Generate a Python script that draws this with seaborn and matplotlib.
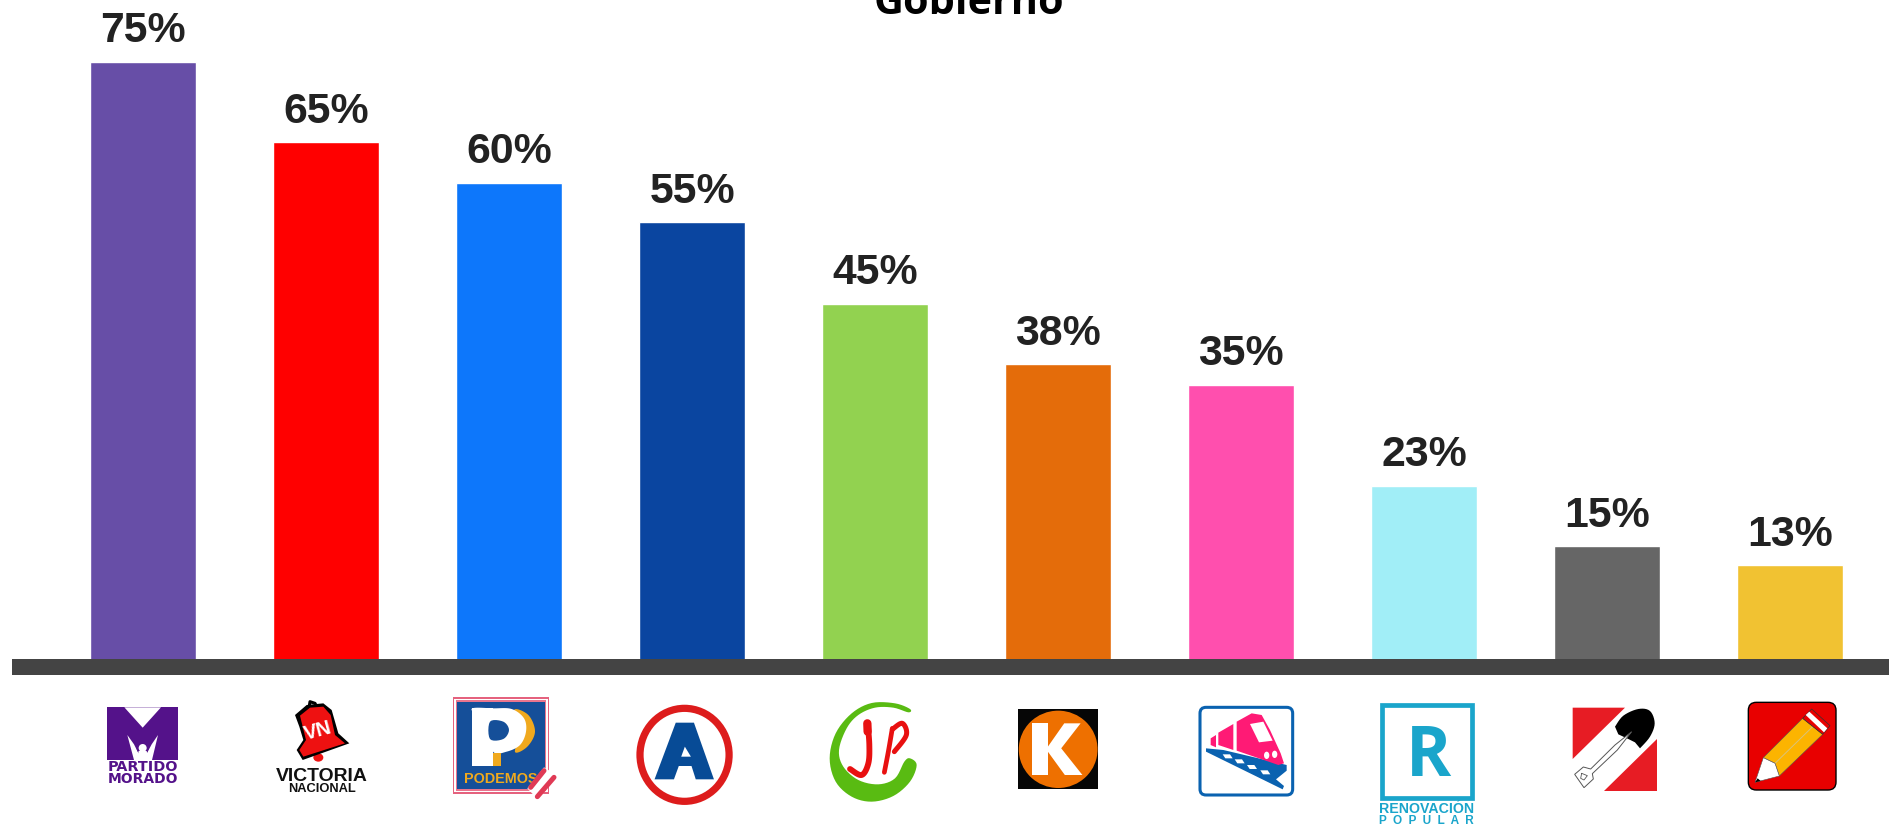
import numpy as np
import pandas as pd
import matplotlib
matplotlib.use("Agg")
import matplotlib.pyplot as plt
from matplotlib.patches import Polygon, Rectangle, Ellipse, FancyBboxPatch
import seaborn as sns

parties = ["Partido Morado", "Victoria Nacional", "Podemos", "APRA", "Juntos por el Perú",
           "Fuerza Popular", "Perú Patriótico", "Renovación Popular", "Perú Libre", "Acción Popular"]
values = [75.0, 65.1, 60.15, 55.25, 45.25, 37.8, 35.3, 22.9, 15.45, 13.1]
value_labels = ["75%", "65%", "60%", "55%", "45%", "38%", "35%", "23%", "15%", "13%"]
colors = ["#674ea7", "#ff0000", "#0d77fb", "#0a45a0", "#92d250",
          "#e46c0a", "#ff4fae", "#a1eef7", "#666666", "#f1c232"]
title_text = "Gobierno"

W, H = 1890, 826
sns.set_theme(style="white")
plt.rcParams["font.family"] = ["Liberation Sans", "DejaVu Sans"]
fig = plt.figure(figsize=(W / 100, H / 100), dpi=100, facecolor="white")

left, right, base_px = 12, 1890, 667
zero_px, px_per_unit = 671.8, 8.133
x0_px, step_px = 143.3, 183.0
ax = fig.add_axes([left / W, 1 - base_px / H, (right - left) / W, base_px / H])
df = pd.DataFrame({"party": parties, "value": values})
sns.barplot(data=df, x="party", y="value", hue="party", palette=colors, saturation=1,
            width=0.578, legend=False, dodge=False, ax=ax)
ax.set_xlim((left - x0_px) / step_px, (right - x0_px) / step_px)
ax.set_ylim((zero_px - base_px) / px_per_unit, zero_px / px_per_unit)
ax.set_xlabel(""); ax.set_ylabel("")
ax.set_yticks([]); ax.set_xticks(range(len(parties))); ax.set_xticklabels([])
ax.tick_params(length=0)
for s in ["top", "left", "right"]:
    ax.spines[s].set_visible(False)
ax.spines["bottom"].set_linewidth(16 * 0.72)
ax.spines["bottom"].set_color("#444444")
ax.spines["bottom"].set_capstyle("butt")

for i, (v, lab) in enumerate(zip(values, value_labels)):
    ax.annotate(lab, (i, v), xytext=(0, 14), textcoords="offset points", ha="center",
                va="baseline", fontsize=30.8, fontweight="bold", color="#222222",
                family="Liberation Sans", annotation_clip=False)

# overlay for party logos, in pixel coordinates
lg = fig.add_axes([0, 0, 1, 1], facecolor="none")
lg.set_xlim(0, W); lg.set_ylim(H, 0); lg.axis("off")
fig.text(969 / W, 1 - 14 / H, title_text, ha="center", va="baseline", fontsize=29.8,
         fontweight="bold", color="black", family="Open Sans")
renderer = fig.canvas.get_renderer()

L = lambda x, y: (x / 1.65, 640 + y / 3)
R = lambda x, y: (940 + x / 1.65, 640 + y / 3)
def Z(ox, oy):
    return lambda x, y: (ox + x / 3, oy + y / 3)

def poly(conv, pts, fc, ec="none", lw=0, z=3):
    lg.add_patch(Polygon([conv(*p) for p in pts], closed=True, fc=fc, ec=ec, lw=lw, zorder=z))

def box(conv, x0, y0, x1, y1, fc, ec="none", lw=0, z=3):
    (a, b), (c, d) = conv(x0, y0), conv(x1, y1)
    lg.add_patch(Rectangle((a, b), c - a, d - b, fc=fc, ec=ec, lw=lw, zorder=z))

def ell(conv, x0, y0, x1, y1, fc, ec="none", lw=0, z=3):
    (a, b), (c, d) = conv(x0, y0), conv(x1, y1)
    lg.add_patch(Ellipse(((a + c) / 2, (b + d) / 2), c - a, d - b, fc=fc, ec=ec, lw=lw, zorder=z))

def smooth(pts, closed=False, n=12):
    p = np.array(pts, float)
    if closed:
        q = np.vstack([p[-1], p, p[0], p[1]])
    else:
        q = np.vstack([p[0], p, p[-1]])
    out = []
    for i in range(1, len(q) - 2):
        for t in np.linspace(0, 1, n, endpoint=False):
            out.append(0.5 * (2 * q[i] + (q[i + 1] - q[i - 1]) * t
                              + (2 * q[i - 1] - 5 * q[i] + 4 * q[i + 1] - q[i + 2]) * t ** 2
                              + (3 * q[i] - q[i - 1] - 3 * q[i + 1] + q[i + 2]) * t ** 3))
    if not closed:
        out.append(p[-1])
    return [tuple(o) for o in out]

def stroke(conv, pts, color, lw, z=4, curve=False):
    if curve:
        pts = smooth(pts)
    xy = np.array([conv(*p) for p in pts])
    lg.plot(xy[:, 0], xy[:, 1], color=color, lw=lw, solid_capstyle="round",
            solid_joinstyle="round", zorder=z)

def fit(conv, x0, x1, y, s, color, family="Liberation Sans", weight="bold", z=5):
    a, b = conv(x0, y); c, _ = conv(x1, y)
    t = lg.text(a, b, s, ha="left", va="baseline", fontsize=10, color=color,
                family=family, fontweight=weight, zorder=z)
    w = t.get_window_extent(renderer).width
    t.set_fontsize(10 * (c - a) / w)
    return t

# Partido Morado and Victoria Nacional
A = Z(90, 695)
pm = "#54128a"
box(A, 52, 37, 264, 195, pm)
poly(A, [(103, 37), (213, 37), (158, 98)], "white", z=4)
poly(A, [(112, 120), (132, 148), (146, 176), (170, 176), (185, 148), (204, 120), (186, 195), (132, 195)], "white", z=4)
ell(A, 140, 141, 176, 177, pm, z=4.1)
ell(A, 146, 147, 170, 171, "white", z=4.2)
poly(A, [(146, 168), (170, 168), (176, 195), (140, 195)], "white", z=4.2)
fit(A, 52, 264, 229, "PARTIDO", pm, family="DejaVu Sans")
fit(A, 52, 264, 264, "MORADO", pm, family="DejaVu Sans")

stroke(A, [(658, 32), (660, 20), (675, 25), (680, 35)], "black", 2.2, z=3)
poly(A, [(615, 60), (650, 30), (700, 25), (725, 45), (745, 115), (778, 145), (638, 195), (620, 165), (640, 135), (628, 95)], "black", z=3.2)
poly(A, [(630, 62), (660, 38), (700, 35), (722, 60), (735, 120), (765, 145), (640, 185), (628, 165), (648, 135)], "#ee1111", z=3.4)
ell(A, 670, 175, 700, 200, "#ee1111", z=3)
lg.text(*A(685, 108), "VN", color="white", fontsize=14.5, fontweight="bold", ha="center", va="center",
        rotation=15, zorder=5, family="Liberation Sans")
fit(A, 557, 832, 257, "VICTORIA", "#111111")
fit(A, 595, 797, 292, "NACIONAL", "#111111")

# Podemos
B = Z(440, 690)
box(B, 38, 22, 328, 312, "#e5627e")
box(B, 43, 27, 323, 307, "white", z=3.1)
box(B, 47, 31, 319, 303, "#e9758e", z=3.15)
box(B, 51, 35, 315, 298, "#154f99", z=3.2)
poly(B, smooth([(222, 60), (265, 75), (285, 125), (262, 170), (225, 186), (240, 125)], closed=True), "#f0a91e", z=3.3)
poly(B, smooth([(97, 55), (160, 55), (215, 57), (252, 85), (258, 125), (240, 165), (200, 185), (160, 186), (140, 125), (110, 80)], closed=True), "white", z=3.5)
box(B, 97, 55, 160, 228, "white", z=3.6)
poly(B, smooth([(150, 95), (190, 95), (207, 120), (190, 147), (150, 147)], closed=True, n=6), "#154f99", z=3.7)
box(B, 160, 190, 182, 228, "#f0a91e", z=3.8)
fit(B, 72, 292, 280, "PODEMOS", "#f0a91e")
poly(B, [(312, 232), (350, 255), (295, 330), (262, 295)], "white", z=5.5)
stroke(B, [(312, 242), (272, 292)], "#e03a55", 3.6, z=6)
stroke(B, [(342, 262), (292, 320)], "#e03a55", 3.6, z=6)

# APRA
ell(L, 1056, 205, 1203, 484, "white", ec="#dd1c1c", lw=5.2)
poly(L, [(1115, 248), (1145, 248), (1178, 418), (1148, 418), (1141, 378), (1120, 378), (1112, 418), (1080, 418)], "#074b96", z=4)
poly(L, [(1130, 320), (1140, 350), (1124, 350)], "white", z=5)

# Juntos por el Peru
C = Z(815, 695)
outer = [(285, 42), (240, 25), (170, 24), (110, 55), (62, 115), (44, 190), (62, 260), (110, 305), (170, 320), (235, 303), (285, 260), (305, 210)]
inner = [(285, 190), (268, 200), (240, 250), (190, 268), (130, 255), (85, 215), (72, 165), (95, 100), (130, 60), (180, 38), (235, 38), (280, 52)]
poly(C, smooth(outer + inner, closed=True, n=6), "#59bb12")
stroke(C, [(158, 85), (163, 150), (160, 205), (140, 240), (105, 222)], "#e81010", 4.2, curve=True)
stroke(C, [(157, 85), (158, 110)], "#e81010", 6.0)
stroke(C, [(232, 100), (220, 170), (208, 232)], "#e81010", 3.4, curve=True)
stroke(C, [(232, 103), (262, 85), (274, 120), (238, 170)], "#e81010", 3.6, curve=True)

# Fuerza Popular
box(R, 128, 208, 260, 447, "#060606")
ell(R, 130, 212, 260, 444, "#ee7000", z=4)
box(R, 152, 250, 178, 405, "white", z=5)
poly(R, [(178, 320), (205, 250), (232, 250), (200, 325), (235, 405), (206, 405), (178, 335)], "white", z=5)

# Peru Patriotico
D = Z(1190, 700)
a, b = D(30, 22); c, d = D(308, 285)
lg.add_patch(FancyBboxPatch((a + 6, b + 6), c - a - 12, d - b - 12, boxstyle="round,pad=6,rounding_size=6",
                            fc="white", ec="#0a62b0", lw=2.2, zorder=3))
pk = "#ff1a75"
poly(D, [(140, 65), (185, 40), (215, 45), (240, 90), (272, 160), (282, 190), (265, 195), (140, 152)], pk, z=4.5)
poly(D, [(85, 98), (130, 72), (130, 150), (85, 135)], pk, z=4.5)
poly(D, [(62, 115), (78, 105), (78, 142), (62, 135)], pk, z=4.5)
poly(D, [(180, 72), (220, 65), (248, 122), (207, 127)], "white", z=5)
ell(D, 222, 155, 238, 177, "white", z=5)
ell(D, 246, 152, 262, 174, "white", z=5)
poly(D, [(48, 145), (100, 150), (290, 195), (290, 212), (258, 238), (282, 258), (278, 268), (48, 155)], "#0a62b0", z=4)
for hx, hy in [(112, 170), (148, 185), (185, 202), (225, 218)]:
    poly(D, [(hx - 14, hy - 7), (hx + 8, hy - 7), (hx + 16, hy + 5), (hx - 6, hy + 5)], "white", z=4.2)

# Renovacion Popular
cy8 = "#1aa5cb"
box(R, 729, 196, 877, 474, "white", ec=cy8, lw=3.4)
lg.text(1428, 776, "R", color=cy8, fontsize=49.4, fontweight="bold", family="Open Sans",
        ha="center", va="baseline", zorder=5)
fit(R, 725, 881, 518, "RENOVACIÓN", cy8)
fit(R, 725, 883, 553, "P  O  P  U  L  A  R", cy8)

# Peru Libre
E = Z(1560, 695)
rd = "#e71c24"
poly(E, [(38, 38), (195, 38), (38, 192)], rd)
poly(E, [(290, 132), (290, 288), (132, 288)], rd)
poly(E, smooth([(165, 95), (190, 62), (235, 42), (270, 48), (284, 85), (270, 125), (240, 160)], n=6)
     + [(225, 142), (205, 132), (175, 118)], "black", z=4)
poly(E, [(215, 110), (165, 150), (92, 222), (70, 216), (44, 238), (72, 278), (100, 252), (97, 236), (172, 165)],
     "white", ec="#555555", lw=0.7, z=5)
stroke(E, [(65, 235), (82, 242), (72, 255), (62, 250), (65, 235)], "#555555", 0.6, z=6)

# Accion Popular
F = Z(1740, 695)
a, b = F(25, 22); c, d = F(288, 285)
lg.add_patch(FancyBboxPatch((a + 8, b + 8), c - a - 16, d - b - 16, boxstyle="round,pad=8,rounding_size=8",
                            fc="#e80000", ec="black", lw=1.0, zorder=3))
poly(F, [(70, 188), (188, 70), (248, 118), (118, 243), (105, 205)], "#fcb400", ec="#555555", lw=0.4, z=4)
stroke(F, [(105, 205), (218, 95)], "#d9c27a", 0.7, z=4.2)
poly(F, [(188, 70), (215, 42), (270, 92), (248, 118)], "#e80000", ec="#333333", lw=0.5, z=4.3)
poly(F, [(197, 60), (208, 50), (262, 100), (252, 112)], "white", z=4.4)
poly(F, [(70, 188), (105, 205), (118, 243), (45, 262)], "white", ec="#555555", lw=0.4, z=4.5)
poly(F, [(45, 262), (53, 250), (62, 258)], "black", z=5)

fig.savefig("out.png", dpi=100, facecolor="white")
